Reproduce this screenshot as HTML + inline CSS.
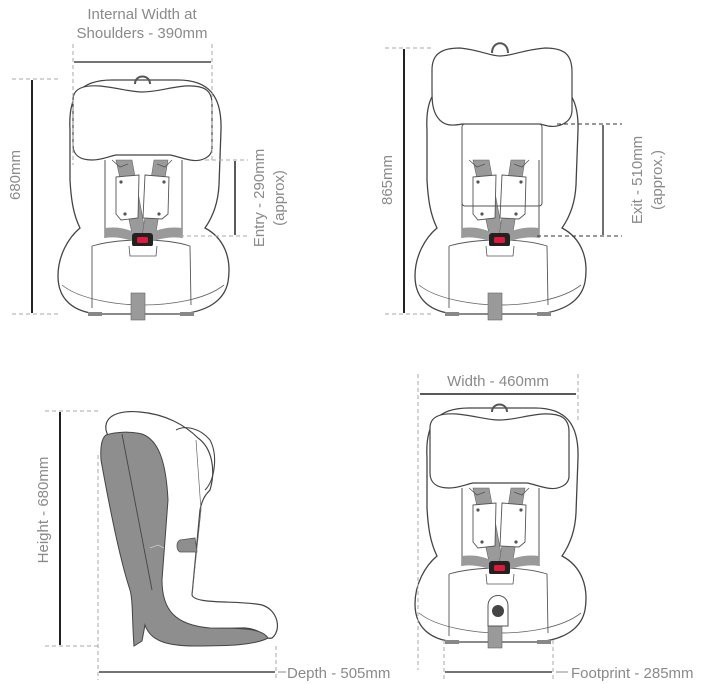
<!DOCTYPE html>
<html><head><meta charset="utf-8"><style>
html,body{margin:0;padding:0;background:#fff;}
svg{display:block}
text{font-family:"Liberation Sans",sans-serif;fill:#8a8a8a;font-size:15px}
</style></head><body>
<svg width="720" height="684" viewBox="0 0 720 684" xmlns="http://www.w3.org/2000/svg">
<defs>
<g id="body">
  <path d="M70,130 C68,95 80,80 112,80 L178,80 C208,80 222,95 221,130 L219,185 C218,205 212,218 205,228 C224,238 232,258 228,282 C224,302 205,312 180,314 L98,314 C74,312 58,300 58,276 C58,256 68,238 80,228 C73,214 71,198 70,180 Z" fill="#fff" stroke="#444" stroke-width="1.3"/>
  <path d="M62,285 C80,300 120,305 142,305 C170,305 205,300 224,285" fill="none" stroke="#666" stroke-width="0.8"/>
  <path d="M105,160 L105,238 M182,160 L182,238" stroke="#555" stroke-width="1" fill="none"/>
  <path d="M92,246 C120,238 165,238 190,246 L191,305 M92,246 L92,308" stroke="#555" stroke-width="0.9" fill="none"/>
  <!-- straps -->
  <path d="M116,160 L132,160 L146,236 L133,238 Z" fill="#9a9a9a" stroke="#666" stroke-width="0.6"/>
  <path d="M168,160 L154,160 L142,236 L155,238 Z" fill="#9a9a9a" stroke="#666" stroke-width="0.6"/>
  <path d="M105,228 C120,226 130,230 138,234 L138,243 C128,239 116,236 105,238 Z" fill="#9a9a9a"/>
  <path d="M182,228 C168,226 156,230 148,234 L148,243 C158,239 170,236 182,238 Z" fill="#9a9a9a"/>
  <path d="M112,160 L120,167 L128,164" fill="none" stroke="#555" stroke-width="0.8"/>
  <path d="M172,160 L165,167 L157,164" fill="none" stroke="#555" stroke-width="0.8"/>
  <!-- pads -->
  <path d="M116,177 L139,175 L138,218 L121,220 L116,214 Z" fill="#fff" stroke="#555" stroke-width="0.9"/>
  <path d="M145,175 L169,177 L168,214 L162,219 L143,218 Z" fill="#fff" stroke="#555" stroke-width="0.9"/>
  <circle cx="121" cy="182" r="1.6" fill="#555"/><circle cx="164" cy="182" r="1.6" fill="#555"/>
  <circle cx="125" cy="214" r="1.6" fill="#555"/><circle cx="159" cy="214" r="1.6" fill="#555"/>
  <rect x="132" y="233" width="21" height="14" rx="3" fill="#222"/>
  <rect x="137" y="237" width="11" height="6" rx="1.5" fill="#e0183a"/>
  <path d="M129,246 L130,256 L156,256 L157,246" fill="#fff" stroke="#555" stroke-width="0.8"/>
  <rect x="131" y="293" width="14" height="27" fill="#9a9a9a" stroke="#666" stroke-width="0.6"/>
  <rect x="88" y="312" width="14" height="4" fill="#888"/>
  <rect x="180" y="312" width="14" height="4" fill="#888"/>
</g>
</defs>

<use href="#body"/>
<path d="M135,84 C135,74 150,74 150,84" fill="none" stroke="#555" stroke-width="2"/>
<path d="M73,100 C73,88 84,85 100,86 C120,88 130,92 142,92 C156,92 166,88 185,86 C204,85 212,90 212,104 L212,148 C212,158 200,162 190,160 C180,158 176,156 170,155 L116,155 C110,156 102,160 92,160 C80,160 73,155 73,145 Z" fill="#fff" stroke="#444" stroke-width="1.2"/>
<text x="142" y="19" text-anchor="middle">Internal Width at</text>
<text x="142" y="38" text-anchor="middle">Shoulders - 390mm</text>
<line x1="73" y1="44" x2="73" y2="165" stroke="#aaa" stroke-dasharray="4,3"/>
<line x1="212" y1="44" x2="212" y2="160" stroke="#aaa" stroke-dasharray="4,3"/>
<line x1="74" y1="62" x2="211" y2="62" stroke="#222" stroke-width="1.2"/>
<line x1="12" y1="79" x2="60" y2="79" stroke="#aaa" stroke-dasharray="4,3"/>
<line x1="12" y1="314" x2="60" y2="314" stroke="#aaa" stroke-dasharray="4,3"/>
<line x1="32" y1="80" x2="32" y2="313" stroke="#222" stroke-width="2"/>
<text transform="translate(20,175) rotate(-90)" text-anchor="middle">680mm</text>
<line x1="205" y1="160" x2="248" y2="160" stroke="#aaa" stroke-dasharray="4,3"/>
<line x1="180" y1="236" x2="248" y2="236" stroke="#aaa" stroke-dasharray="4,3"/>
<line x1="235" y1="161" x2="235" y2="235" stroke="#222" stroke-width="1.5"/>
<text transform="translate(264,198) rotate(-90)" text-anchor="middle">Entry - 290mm</text>
<text transform="translate(284,198) rotate(-90)" text-anchor="middle">(approx)</text>

<g transform="translate(357,0)"><use href="#body"/></g>
<path d="M492,53 C492,40 508,40 508,53" fill="none" stroke="#555" stroke-width="2"/>
<path d="M432,70 C432,55 440,48 460,48 C480,50 490,56 500,56 C512,56 522,50 545,48 C565,48 572,55 572,72 L572,110 C572,122 560,128 548,126 L540,124 L462,124 C452,126 444,126 438,118 C432,110 432,100 432,90 Z" fill="#fff" stroke="#444" stroke-width="1.2"/>
<rect x="462" y="124" width="80" height="82" rx="3" fill="none" stroke="#555" stroke-width="1"/>
<line x1="385" y1="48" x2="432" y2="48" stroke="#aaa" stroke-dasharray="4,3"/>
<line x1="385" y1="314" x2="432" y2="314" stroke="#aaa" stroke-dasharray="4,3"/>
<line x1="404" y1="49" x2="404" y2="313" stroke="#222" stroke-width="2"/>
<text transform="translate(392,180) rotate(-90)" text-anchor="middle">865mm</text>
<line x1="557" y1="124" x2="622" y2="124" stroke="#333" stroke-dasharray="4,3"/>
<line x1="537" y1="236" x2="622" y2="236" stroke="#333" stroke-dasharray="4,3"/>
<line x1="603" y1="125" x2="603" y2="235" stroke="#222" stroke-width="1.3"/>
<text transform="translate(642,180) rotate(-90)" text-anchor="middle">Exit - 510mm</text>
<text transform="translate(662,180) rotate(-90)" text-anchor="middle">(approx.)</text>

<g transform="translate(357,328)"><use href="#body"/>
<path d="M135,84 C135,74 150,74 150,84" fill="none" stroke="#555" stroke-width="2"/>
<path d="M73,100 C73,88 84,85 100,86 C120,88 130,92 142,92 C156,92 166,88 185,86 C204,85 212,90 212,104 L212,148 C212,158 200,162 190,160 C180,158 176,156 170,155 L116,155 C110,156 102,160 92,160 C80,160 73,155 73,145 Z" fill="#fff" stroke="#444" stroke-width="1.2"/>
<path d="M131,278 C131,264 151,264 151,278 L151,298 L131,298 Z" fill="#fff" stroke="#555" stroke-width="1"/>
<circle cx="141" cy="283" r="6" fill="#444"/>
</g>
<text x="498" y="386" text-anchor="middle">Width - 460mm</text>
<line x1="418" y1="374" x2="418" y2="670" stroke="#aaa" stroke-dasharray="4,3"/>
<line x1="578" y1="374" x2="578" y2="420" stroke="#aaa" stroke-dasharray="4,3"/>
<line x1="420" y1="394" x2="576" y2="394" stroke="#222" stroke-width="1.5"/>
<line x1="444" y1="640" x2="444" y2="682" stroke="#aaa" stroke-dasharray="4,3"/>
<line x1="553" y1="640" x2="553" y2="682" stroke="#aaa" stroke-dasharray="4,3"/>
<line x1="445" y1="672" x2="552" y2="672" stroke="#222" stroke-width="1.2"/>
<line x1="556" y1="672" x2="568" y2="672" stroke="#888"/>
<text x="571" y="678">Footprint - 285mm</text>

<path d="M106,430 C104,415 120,410 140,412 C165,414 185,425 198,438 C212,448 216,470 210,490 C205,495 202,500 200,510 L192,595 C195,605 240,600 262,605 C278,610 282,630 272,638 C262,640 266,630 245,628 C215,628 180,632 165,620 Z" fill="#fff" stroke="#444" stroke-width="1.2"/>
<path d="M176,430 C185,425 200,428 210,440 C218,455 215,480 205,490" fill="none" stroke="#444" stroke-width="1.1"/>
<path d="M196,440 L201,510 L192,595" fill="none" stroke="#666" stroke-width="0.7"/>
<path d="M106,435 C115,432 130,431 142,434 C158,440 166,460 168,500 L162,580 C162,610 175,625 210,628 C240,628 262,628 268,638 C255,645 230,646 195,646 C165,646 150,640 145,625 L142,641 L134,646 C132,620 133,600 130,590 C120,560 110,510 101,460 C100,445 102,438 106,435 Z" fill="#8e8e8e" stroke="#444" stroke-width="1"/>
<path d="M122,434 L152,590" stroke="#444" stroke-width="0.9" fill="none"/>
<path d="M150,548 L158,545 L164,548" stroke="#ccc" stroke-width="0.8" fill="none"/>
<path d="M180,540 L195,538 L197,552 L180,552 C176,550 176,542 180,540 Z" fill="#8e8e8e" stroke="#555" stroke-width="0.8"/>
<line x1="45" y1="411" x2="98" y2="411" stroke="#aaa" stroke-dasharray="4,3"/>
<line x1="45" y1="646" x2="98" y2="646" stroke="#aaa" stroke-dasharray="4,3"/>
<line x1="60" y1="412" x2="60" y2="645" stroke="#222" stroke-width="2"/>
<text transform="translate(48,510) rotate(-90)" text-anchor="middle">Height - 680mm</text>
<line x1="98" y1="455" x2="98" y2="680" stroke="#aaa" stroke-dasharray="4,3"/>
<line x1="276" y1="646" x2="276" y2="680" stroke="#aaa" stroke-dasharray="4,3"/>
<line x1="99" y1="672" x2="275" y2="672" stroke="#222" stroke-width="1.2"/>
<line x1="278" y1="672" x2="286" y2="672" stroke="#888"/>
<text x="287" y="678">Depth - 505mm</text>
</svg>
</body></html>
